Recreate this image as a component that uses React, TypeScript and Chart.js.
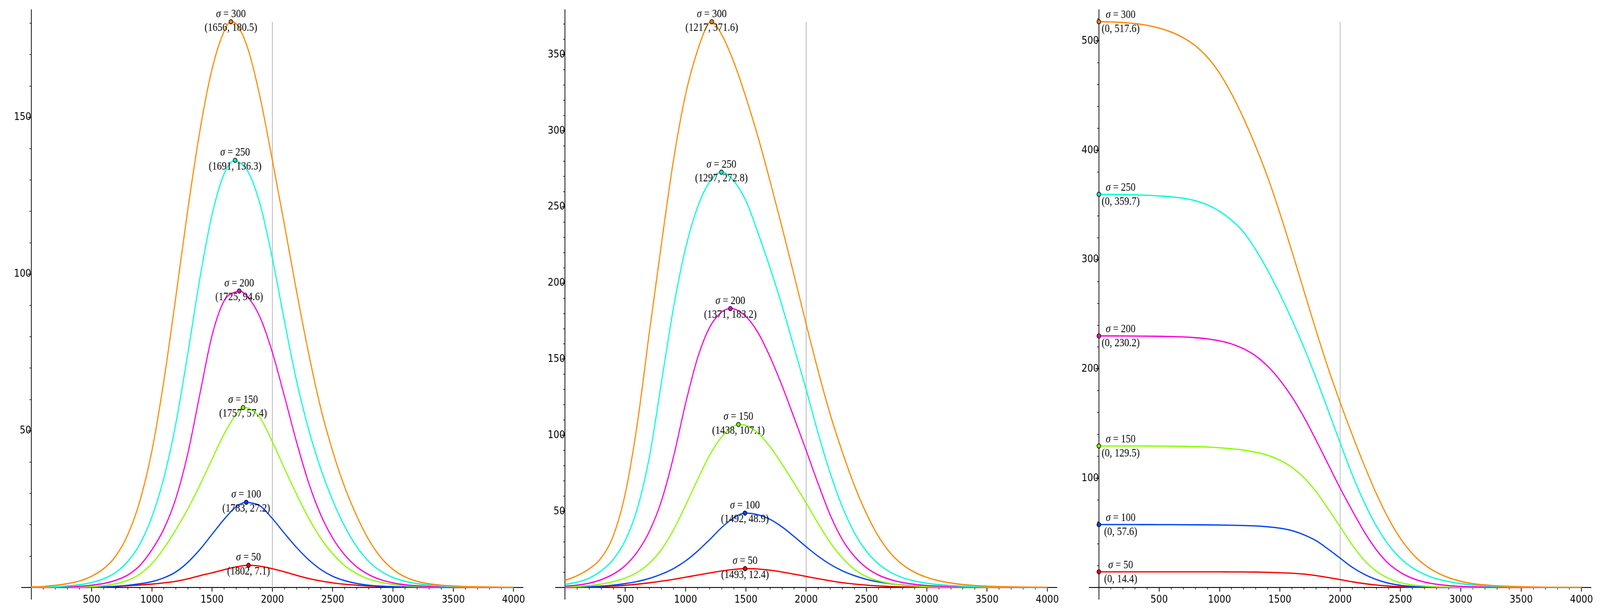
import { useEffect, useRef } from "react";
import { Chart, registerables } from "chart.js";

Chart.register(...registerables);

// sample positions on the horizontal axis
const xGrid = [
  0, 100, 200, 300, 400, 500, 600, 700, 800, 900, 1000, 1100, 1200, 1300,
  1400, 1500, 1600, 1700, 1800, 1900, 2000, 2100, 2200, 2300, 2400, 2500,
  2600, 2700, 2800, 2900, 3000, 3100, 3200, 3300, 3400, 3500, 3600, 3700,
  3800, 3900, 4000,
];

const sigmas = [50, 100, 150, 200, 250, 300];
const lineColors = ["#ff0000", "#0044ff", "#88ff00", "#ff00dd", "#00ffd5", "#ff8800"];

// grey vertical reference line
const referenceX = 2000;

// left panel
const leftRed = [
  0, 0.01, 0.02, 0.04, 0.07, 0.12, 0.2, 0.35, 0.55, 0.8, 1.1, 1.5, 2.0, 2.8, 3.8,
  4.7, 5.7, 6.6, 7.1, 6.8, 6.0, 5.0, 3.9, 2.9, 2.1, 1.5, 1.05, 0.75, 0.5, 0.35,
  0.25, 0.17, 0.12, 0.08, 0.05, 0.03, 0.02, 0.01, 0.01, 0, 0,
];
const leftBlue = [
  0, 0.01, 0.02, 0.04, 0.07, 0.12, 0.2, 0.4, 0.7, 1.2, 1.9, 3.1, 5.0, 8.1, 12.2,
  17, 21.8, 25.8, 27.15, 26, 22, 17.3, 12.8, 8.9, 5.8, 3.6, 2.2, 1.3, 0.75, 0.45,
  0.27, 0.16, 0.1, 0.06, 0.04, 0.02, 0.01, 0.01, 0, 0, 0,
];
const leftGreen = [
  0.01, 0.02, 0.04, 0.08, 0.15, 0.3, 0.6, 1.2, 2.3, 4.3, 7.6, 12.5, 18.5, 25.2,
  32.8, 41, 49, 55.3, 57.2, 54, 46.5, 38, 29.8, 22.2, 15.8, 10.8, 7.0, 4.4, 2.7,
  1.65, 1.0, 0.6, 0.37, 0.22, 0.13, 0.08, 0.05, 0.03, 0.02, 0.01, 0.01,
];
const leftMagenta = [
  0.02, 0.04, 0.1, 0.2, 0.4, 0.75, 1.3, 2.3, 4.0, 7.0, 12, 18.7, 28.5, 43, 62,
  80.5, 91.5, 94.4, 92.5, 86, 75, 61, 46.5, 33.5, 23.3, 15.8, 10.4, 6.6, 4.1, 2.5,
  1.5, 0.9, 0.55, 0.35, 0.22, 0.14, 0.09, 0.05, 0.03, 0.02, 0.01,
];
const leftCyan = [
  0.05, 0.12, 0.25, 0.5, 0.9, 1.6, 2.8, 4.8, 8.3, 13.8, 22.5, 35, 52.5, 75, 99,
  119, 132, 136.2, 132.5, 122, 105, 85, 66, 50.5, 38, 27.8, 19.5, 13, 8.3, 5.2,
  3.2, 2.0, 1.25, 0.8, 0.5, 0.32, 0.2, 0.13, 0.08, 0.05, 0.04,
];
const leftOrange = [
  0.2, 0.35, 0.7, 1.25, 2.1, 3.6, 6.0, 10, 16.8, 27.5, 43.5, 66, 93, 121, 146,
  165.5, 177.5, 179.8, 171.5, 156, 136.3, 115.7, 94.6, 74.8, 57.4, 43.5, 32, 22.8,
  15.2, 9.6, 5.8, 3.4, 2.0, 1.2, 0.75, 0.5, 0.35, 0.25, 0.18, 0.12, 0.08,
];
const leftPeakX = [1802, 1783, 1757, 1725, 1691, 1656];
const leftPeakY = [7.1, 27.2, 57.4, 94.6, 136.3, 180.5];

// middle panel
const midRed = [
  0.1, 0.2, 0.35, 0.6, 1.0, 1.5, 2.2, 3.1, 4.2, 5.4, 6.8, 8.2, 9.6, 10.9, 11.9,
  12.4, 12.2, 11.4, 10.2, 8.8, 7.3, 5.8, 4.4, 3.2, 2.3, 1.6, 1.1, 0.7, 0.45, 0.3,
  0.2, 0.12, 0.08, 0.05, 0.03, 0.02, 0.01, 0.01, 0.01, 0, 0,
];
const midBlue = [
  0.15, 0.3, 0.55, 0.95, 1.6, 2.6, 4.0, 6.0, 8.8, 12.5, 17.5, 24, 31.5, 39.5,
  45.8, 48.9, 47.8, 44.8, 39.8, 33.5, 26.8, 20.5, 15.2, 11.0, 7.8, 5.4, 3.7, 2.5,
  1.7, 1.1, 0.75, 0.5, 0.32, 0.2, 0.13, 0.08, 0.05, 0.03, 0.02, 0.01, 0.01,
];
const midGreen = [
  0.4, 0.7, 1.3, 2.3, 3.9, 6.3, 10, 16, 25, 38, 54, 71, 87, 99, 106, 106.5,
  101.5, 92.5, 81, 68.5, 55.5, 42, 29.5, 19.5, 12, 7.2, 4.4, 2.7, 1.6, 1.0, 0.6,
  0.4, 0.25, 0.15, 0.1, 0.06, 0.04, 0.03, 0.02, 0.01, 0.01,
];
const midMagenta = [
  0.85, 1.6, 2.9, 5.2, 8.8, 14.5, 23.5, 37, 57, 86, 121, 151, 171, 181, 183,
  178, 167.5, 151.5, 132.5, 111.5, 90, 68, 47.5, 31.5, 20.5, 13, 8.2, 5.2, 3.3,
  2.1, 1.35, 0.88, 0.58, 0.38, 0.25, 0.16, 0.1, 0.07, 0.05, 0.03, 0.02,
];
const midCyan = [
  2.1, 3.5, 6.2, 11, 18.5, 31, 52, 86, 135, 184, 223, 250, 266.5, 272.8, 267,
  254, 233, 210, 185, 157.5, 130, 101, 75, 53, 36, 23.8, 15.5, 10, 6.5, 4.3, 2.9,
  1.9, 1.3, 0.85, 0.55, 0.36, 0.24, 0.16, 0.1, 0.07, 0.05,
];
const midOrange = [
  4.7, 7.8, 12.3, 19.5, 34, 62, 108, 168, 226, 281, 324, 353, 371.2, 363, 345,
  322, 296, 267, 236.5, 205, 173, 142, 113.5, 89, 67, 48.5, 33.5, 22.5, 15, 10,
  6.7, 4.5, 3.0, 2.0, 1.35, 0.9, 0.6, 0.42, 0.3, 0.21, 0.15,
];
const midPeakX = [1493, 1492, 1438, 1371, 1297, 1217];
const midPeakY = [12.4, 48.9, 107.1, 183.2, 272.8, 371.6];

// right panel
const rightRed = [
  14.4, 14.4, 14.4, 14.4, 14.4, 14.4, 14.4, 14.4, 14.4, 14.4, 14.35, 14.3, 14.25,
  14.15, 13.95, 13.6, 13.1, 12.3, 11, 9.2, 7.3, 5.3, 3.6, 2.3, 1.4, 0.8, 0.45,
  0.25, 0.13, 0.07, 0.04, 0.02, 0.01, 0, 0, 0, 0, 0, 0, 0, 0,
];
const rightBlue = [
  57.6, 57.6, 57.6, 57.6, 57.59, 57.57, 57.54, 57.49, 57.42, 57.32, 57.18, 57.0,
  56.75, 56.4, 55.6, 54.3, 52.1, 48.2, 42.9, 35.2, 26.9, 18.6, 12.1, 7.3, 4.0, 2.0,
  1.0, 0.5, 0.25, 0.12, 0.06, 0.03, 0.02, 0.01, 0, 0, 0, 0, 0, 0, 0,
];
const rightGreen = [
  129.5, 129.5, 129.49, 129.48, 129.46, 129.41, 129.32, 129.18, 128.95, 128.55,
  127.9, 127.0, 125.7, 123.8, 121.0, 116.5, 110, 100.5, 87.8, 72, 55.6, 39.0, 25.0,
  15.0, 8.5, 4.5, 2.4, 1.3, 0.7, 0.4, 0.22, 0.12, 0.07, 0.04, 0.02, 0.01, 0.01, 0,
  0, 0, 0,
];
const rightMagenta = [
  230.2, 230.18, 230.14, 230.07, 229.97, 229.82, 229.6, 229.27, 228.57, 227.47,
  225.67, 222.87, 218.37, 211.87, 202.37, 189.87, 174.37, 155.87, 134.87, 112.87,
  90.9, 70.4, 51, 34.5, 22, 13.8, 8.4, 5.0, 3.0, 1.8, 1.05, 0.65, 0.4, 0.24, 0.15,
  0.09, 0.06, 0.04, 0.03, 0.02, 0.01,
];
const rightCyan = [
  359.7, 359.65, 359.5, 359.25, 358.85, 358.25, 357.45, 356.15, 353.85, 350.05,
  344.25, 336.05, 325.05, 309.05, 290.05, 268.55, 245.05, 219.55, 191.75, 162.25,
  132.25, 103.25, 77.75, 56.25, 39.25, 26.75, 18, 12, 8, 5.4, 3.6, 2.4, 1.6, 1.05,
  0.68, 0.44, 0.28, 0.18, 0.12, 0.08, 0.05,
];
const rightOrange = [
  517.6, 517.4, 516.9, 515.9, 514.3, 511.8, 508.1, 502.9, 495.6, 485.1, 470.6,
  451.6, 429.1, 403.6, 375.1, 342.6, 307.6, 271.3, 235.3, 200.8, 169.3, 139.8,
  111.8, 85.8, 63.3, 44.8, 30.8, 20.8, 13.8, 9.0, 5.7, 3.6, 2.4, 1.6, 1.1, 0.75,
  0.52, 0.36, 0.26, 0.19, 0.14,
];
const rightPeakX = [0, 0, 0, 0, 0, 0];
const rightPeakY = [14.4, 57.6, 129.5, 230.2, 359.7, 517.6];

// ticks
const xTickLabels = [500, 1000, 1500, 2000, 2500, 3000, 3500, 4000];
const xMinorTicks = [
  100, 200, 300, 400, 600, 700, 800, 900, 1100, 1200, 1300, 1400, 1600, 1700,
  1800, 1900, 2100, 2200, 2300, 2400, 2600, 2700, 2800, 2900, 3100, 3200, 3300,
  3400, 3600, 3700, 3800, 3900,
];
const leftYTickLabels = [50, 100, 150];
const leftYMinorTicks = [10, 20, 30, 40, 60, 70, 80, 90, 110, 120, 130, 140, 160, 170, 180];
const midYTickLabels = [50, 100, 150, 200, 250, 300, 350];
const midYMinorTicks = [
  10, 20, 30, 40, 60, 70, 80, 90, 110, 120, 130, 140, 160, 170, 180, 190, 210, 220,
  230, 240, 260, 270, 280, 290, 310, 320, 330, 340, 360, 370,
];
const rightYTickLabels = [100, 200, 300, 400, 500];
const rightYMinorTicks = [
  20, 40, 60, 80, 120, 140, 160, 180, 220, 240, 260, 280, 320, 340, 360, 380, 420,
  440, 460, 480, 520,
];

// sizes in picture pixels
const PAGE_W = 4765;
const PAGE_H = 1571;
const CANVAS_W = 1583;
const CANVAS_H = 1571;
const AREA_W = 1494.6;
const tickFont = { family: "DejaVu Sans", size: 27 };
const textSize = 29;

type PanelProps = {
  series: number[][];
  peakX: number[];
  peakY: number[];
  yLabels: number[];
  yMinor: number[];
  left: number;
  padLeft: number;
  beside: boolean;
  kx: number;
  ky: number;
};

function withPeak(values: number[], px: number, py: number) {
  const pts = xGrid.map((x, i) => ({ x, y: values[i] }));
  if (!xGrid.includes(px)) {
    pts.push({ x: px, y: py });
    pts.sort((a, b) => a.x - b.x);
  }
  return pts;
}

const Panel = ({ series, peakX, peakY, yLabels, yMinor, left, padLeft, beside, kx, ky }: PanelProps) => {
  const canvasRef = useRef<HTMLCanvasElement>(null);

  useEffect(() => {
    if (!canvasRef.current) return;
    const top = Math.max(...peakY);

    const peakText = {
      id: "peakText",
      afterDatasetsDraw(chart: any) {
        const { ctx, scales } = chart;
        ctx.save();
        ctx.fillStyle = "#000";
        ctx.textBaseline = "alphabetic";
        peakX.forEach((px, i) => {
          const cx = scales.x.getPixelForValue(px) + (beside ? 65 : 0);
          const cy = scales.y.getPixelForValue(peakY[i]);
          const sy = cy - (beside ? 9.5 : 12);
          const ty = cy + (beside ? 26.5 : 23.5);

          const rest = " = " + sigmas[i];
          ctx.font = `italic ${textSize}px "Liberation Serif"`;
          const w1 = ctx.measureText("σ").width;
          ctx.font = `${textSize}px "Liberation Serif"`;
          const w2 = ctx.measureText(rest).width;
          const x0 = cx - (w1 + w2) / 2;
          ctx.textAlign = "left";
          ctx.font = `italic ${textSize}px "Liberation Serif"`;
          ctx.fillText("σ", x0, sy);
          ctx.font = `${textSize}px "Liberation Serif"`;
          ctx.fillText(rest, x0 + w1, sy);

          ctx.textAlign = "center";
          ctx.fillText(`(${px}, ${peakY[i].toFixed(1)})`, cx, ty);
        });
        ctx.restore();
      },
    };

    const curves = series.map((vals, i) => ({
      data: withPeak(vals, peakX[i], peakY[i]),
      borderColor: lineColors[i],
      borderWidth: 3.3,
      pointRadius: 0,
      cubicInterpolationMode: "monotone",
      fill: false,
      order: series.length - i,
      xAxisID: "x",
      yAxisID: "y",
    }));

    const chart = new Chart(canvasRef.current, {
      type: "line",
      data: {
        datasets: [
          {
            data: peakX.map((x, i) => ({ x, y: peakY[i] })),
            showLine: false,
            pointRadius: 5.5,
            pointBackgroundColor: lineColors,
            pointBorderColor: "#000",
            pointBorderWidth: 1.8,
            order: 0,
            xAxisID: "x",
            yAxisID: "y",
          },
          ...curves,
          {
            data: [
              { x: referenceX, y: 0 },
              { x: referenceX, y: top },
            ],
            borderColor: "#bfbfbf",
            borderWidth: 2.5,
            pointRadius: 0,
            order: 20,
            xAxisID: "x",
            yAxisID: "y",
          },
        ] as any,
      },
      options: {
        animation: false,
        responsive: false,
        devicePixelRatio: 1,
        events: [],
        layout: {
          padding: { left: padLeft, right: CANVAS_W - padLeft - AREA_W, top: 25, bottom: 37.7 },
        },
        plugins: { legend: { display: false }, tooltip: { enabled: false } },
        scales: {
          x: {
            type: "linear",
            min: -80,
            max: 4080,
            position: { y: 0 },
            afterBuildTicks: (axis: any) => {
              axis.ticks = xTickLabels.map((value) => ({ value }));
            },
            grid: { drawOnChartArea: false, color: "#000", tickLength: 9.5, tickWidth: 2.2 },
            border: { color: "#000", width: 2.2 },
            ticks: {
              autoSkip: false,
              maxRotation: 0,
              padding: 6,
              color: "#000",
              font: tickFont,
              callback: (v: any) => String(v),
            },
          },
          xMinor: {
            type: "linear",
            min: -80,
            max: 4080,
            position: { y: 0 },
            afterBuildTicks: (axis: any) => {
              axis.ticks = xMinorTicks.map((value) => ({ value }));
            },
            grid: { drawOnChartArea: false, color: "#000", tickLength: 5.5, tickWidth: 1.6 },
            border: { display: false },
            ticks: { display: false },
          },
          y: {
            type: "linear",
            min: -0.0207 * top,
            max: 1.021 * top,
            position: { x: 0 },
            afterBuildTicks: (axis: any) => {
              axis.ticks = yLabels.map((value) => ({ value }));
            },
            grid: { drawOnChartArea: false, color: "#000", tickLength: 9.5, tickWidth: 2.2 },
            border: { color: "#000", width: 2.2 },
            ticks: {
              autoSkip: false,
              padding: 9,
              color: "#000",
              font: tickFont,
              callback: (v: any) => String(v),
            },
          },
          yMinor: {
            type: "linear",
            min: -0.0207 * top,
            max: 1.021 * top,
            position: { x: 0 },
            afterBuildTicks: (axis: any) => {
              axis.ticks = yMinor.map((value) => ({ value }));
            },
            grid: { drawOnChartArea: false, color: "#000", tickLength: 5.5, tickWidth: 1.6 },
            border: { display: false },
            ticks: { display: false },
          },
        },
      } as any,
      plugins: [peakText],
    });

    return () => {
      chart.destroy();
    };
  }, []);

  // the canvas is drawn in picture pixels and stretched to the window by css
  return (
    <canvas
      ref={canvasRef}
      width={CANVAS_W}
      height={CANVAS_H}
      style={{
        position: "absolute",
        left: left * kx,
        top: 0,
        width: CANVAS_W * kx,
        height: CANVAS_H * ky,
      }}
    />
  );
};

export default function App() {
  const kx = window.innerWidth ? window.innerWidth / PAGE_W : 1;
  const ky = window.innerHeight ? window.innerHeight / PAGE_H : 1;

  return (
    <div
      style={{
        position: "fixed",
        left: 0,
        top: 0,
        width: PAGE_W * kx,
        height: PAGE_H * ky,
        overflow: "hidden",
        background: "#fff",
      }}
    >
      <Panel
        series={[leftRed, leftBlue, leftGreen, leftMagenta, leftCyan, leftOrange]}
        peakX={leftPeakX}
        peakY={leftPeakY}
        yLabels={leftYTickLabels}
        yMinor={leftYMinorTicks}
        left={2}
        padLeft={62}
        beside={false}
        kx={kx}
        ky={ky}
      />
      <Panel
        series={[midRed, midBlue, midGreen, midMagenta, midCyan, midOrange]}
        peakX={midPeakX}
        peakY={midPeakY}
        yLabels={midYTickLabels}
        yMinor={midYMinorTicks}
        left={1591}
        padLeft={62.6}
        beside={false}
        kx={kx}
        ky={ky}
      />
      <Panel
        series={[rightRed, rightBlue, rightGreen, rightMagenta, rightCyan, rightOrange]}
        peakX={rightPeakX}
        peakY={rightPeakY}
        yLabels={rightYTickLabels}
        yMinor={rightYMinorTicks}
        left={3182}
        padLeft={62}
        beside={true}
        kx={kx}
        ky={ky}
      />
    </div>
  );
}
